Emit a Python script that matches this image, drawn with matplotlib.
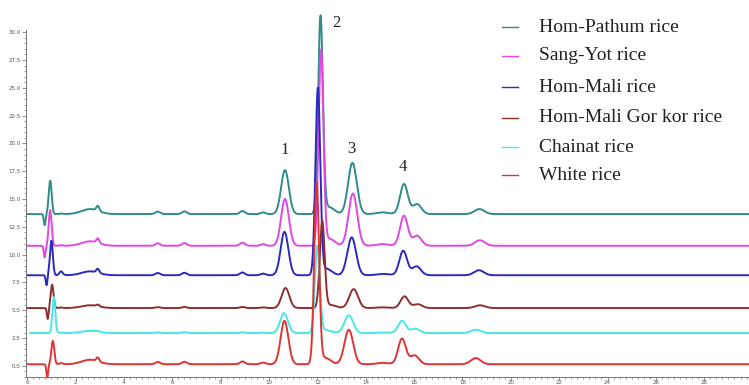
import matplotlib
matplotlib.use("Agg")
import matplotlib.pyplot as plt
import numpy as np
from matplotlib.lines import Line2D
from matplotlib.ticker import MultipleLocator, FormatStrFormatter

# series, top to bottom
names = ["Hom-Pathum rice", "Sang-Yot rice", "Hom-Mali rice",
         "Hom-Mali Gor kor rice", "Chainat rice", "White rice"]
colors = ["#2f8c88", "#e048e0", "#2a2ac0", "#8e2f2f", "#48e6e6", "#e03434"]
baselines = [13.65, 10.8, 8.15, 5.2, 2.95, 0.15]
start_time = [0.0, 0.0, 0.0, 0.0, 0.12, 0.0]

# numbered peaks (retention time, height above baseline)
p1_rt = [10.66, 10.66, 10.64, 10.68, 10.62, 10.64]
p1_h = [3.95, 4.2, 3.9, 1.8, 1.8, 3.9]
p2_rt = [12.13, 12.15, 12.02, 12.2, 12.0, 11.97]
p2_h = [17.7, 17.5, 16.7, 7.75, 7.8, 16.2]
p3_rt = [13.45, 13.47, 13.42, 13.5, 13.3, 13.3]
p3_h = [4.6, 4.7, 3.4, 1.7, 1.6, 3.1]
p4_rt = [15.58, 15.58, 15.55, 15.6, 15.5, 15.5]
p4_h = [2.7, 2.7, 2.2, 1.05, 1.1, 2.3]
shoulder_rt = [16.12, 16.12, 16.1, 16.15, 16.05, 16.02]
shoulder_h = [0.9, 0.9, 0.8, 0.35, 0.4, 0.8]
p5_rt = [18.7, 18.72, 18.68, 18.72, 18.55, 18.55]
p5_h = [0.45, 0.5, 0.45, 0.25, 0.3, 0.55]
peak_sigma = [0.16, 0.1, 0.18, 0.16, 0.18, 0.2]

# injection disturbance: dip then spike
dip_rt = [0.72, 0.72, 0.8, 0.85, 0.85, 0.83]
dip_depth = [1.0, 1.05, 0.9, 1.0, 0.0, 1.2]
spike_rt = [0.95, 0.95, 1.0, 1.03, 1.1, 1.06]
spike_h = [3.0, 3.2, 3.1, 2.1, 3.25, 2.1]

# small early peaks
minor_rt = [1.4, 2.6, 2.92, 5.4, 6.5, 8.9, 9.75, 14.7]
minor_sigma = [0.07, 0.35, 0.06, 0.1, 0.1, 0.1, 0.1, 0.25]
minor_h = [
    [0.05, 0.45, 0.45, 0.22, 0.24, 0.28, 0.15, 0.15],
    [0.05, 0.4, 0.4, 0.22, 0.24, 0.28, 0.15, 0.15],
    [0.35, 0.35, 0.35, 0.2, 0.22, 0.25, 0.15, 0.12],
    [0.05, 0.25, 0.15, 0.08, 0.1, 0.1, 0.06, 0.06],
    [0.05, 0.2, 0.08, 0.06, 0.08, 0.08, 0.05, 0.05],
    [0.1, 0.4, 0.35, 0.2, 0.22, 0.25, 0.15, 0.12],
]

peak_labels = ["1", "2", "3", "4"]
peak_label_x = [10.66, 12.77, 13.42, 15.54]
peak_label_y = [19.4, 30.8, 19.5, 17.9]


def gauss(t, rt, h, s):
    return h * np.exp(-0.5 * ((t - rt) / s) ** 2)


fig = plt.figure(figsize=(7.49, 3.85), dpi=100)
ax = fig.add_axes([26 / 749, 1 - 377 / 385, 723 / 749, 347 / 385])

t = np.linspace(0, 29.9, 8000)
for i, name in enumerate(names):
    y = np.full_like(t, baselines[i])
    rts = [p1_rt[i], p2_rt[i], p3_rt[i], p4_rt[i], shoulder_rt[i], p5_rt[i]]
    hs = [p1_h[i], p2_h[i], p3_h[i], p4_h[i], shoulder_h[i], p5_h[i]]
    for rt, h, s in zip(rts, hs, peak_sigma):
        y += gauss(t, rt, h, s)
    # tailing of the big peak
    y += gauss(t, p2_rt[i] + 0.35, 0.035 * p2_h[i], 0.22)
    y -= gauss(t, dip_rt[i], dip_depth[i], 0.035)
    y += gauss(t, spike_rt[i], spike_h[i], 0.06)
    for rt, s, h in zip(minor_rt, minor_sigma, minor_h[i]):
        y += gauss(t, rt, h, s)
    y = np.where(t >= start_time[i], y, np.nan)
    ax.plot(t, y, color=colors[i], lw=1.4, solid_joinstyle="round",
            clip_on=False)

ax.set_xlim(-0.05, 29.85)
ax.set_ylim(-1.0, 30.2)
for side in ["top", "right"]:
    ax.spines[side].set_visible(False)
for side in ["left", "bottom"]:
    ax.spines[side].set_color("#777777")
    ax.spines[side].set_linewidth(0.7)

ax.yaxis.set_major_locator(MultipleLocator(2.5))
ax.yaxis.set_minor_locator(MultipleLocator(0.5))
ax.xaxis.set_major_locator(MultipleLocator(2))
ax.xaxis.set_minor_locator(MultipleLocator(0.25))
ax.yaxis.set_major_formatter(FormatStrFormatter("%.1f"))
ax.tick_params(which="major", length=3, width=0.6, color="#777777",
               labelsize=4, labelcolor="#555555", pad=1)
ax.tick_params(axis="x", which="major", length=2, pad=0.5)
ax.tick_params(which="minor", length=1.5, width=0.5, color="#777777")

for lab, x, yv in zip(peak_labels, peak_label_x, peak_label_y):
    ax.text(x, yv, lab, ha="center", va="center", fontsize=12,
            family="Liberation Serif", color="#222222", clip_on=False)

legend_y = [27, 56, 87, 118, 147, 175]
for i, name in enumerate(names):
    yf = 1 - legend_y[i] / 385
    fig.add_artist(Line2D([502 / 749, 518 / 749], [yf, yf],
                          color=colors[i], lw=1.0, transform=fig.transFigure))
    fig.text(539 / 749, yf, name, ha="left", va="center", fontsize=14,
             family="Liberation Serif", color="#222222")

fig.savefig("out.png", dpi=100)
